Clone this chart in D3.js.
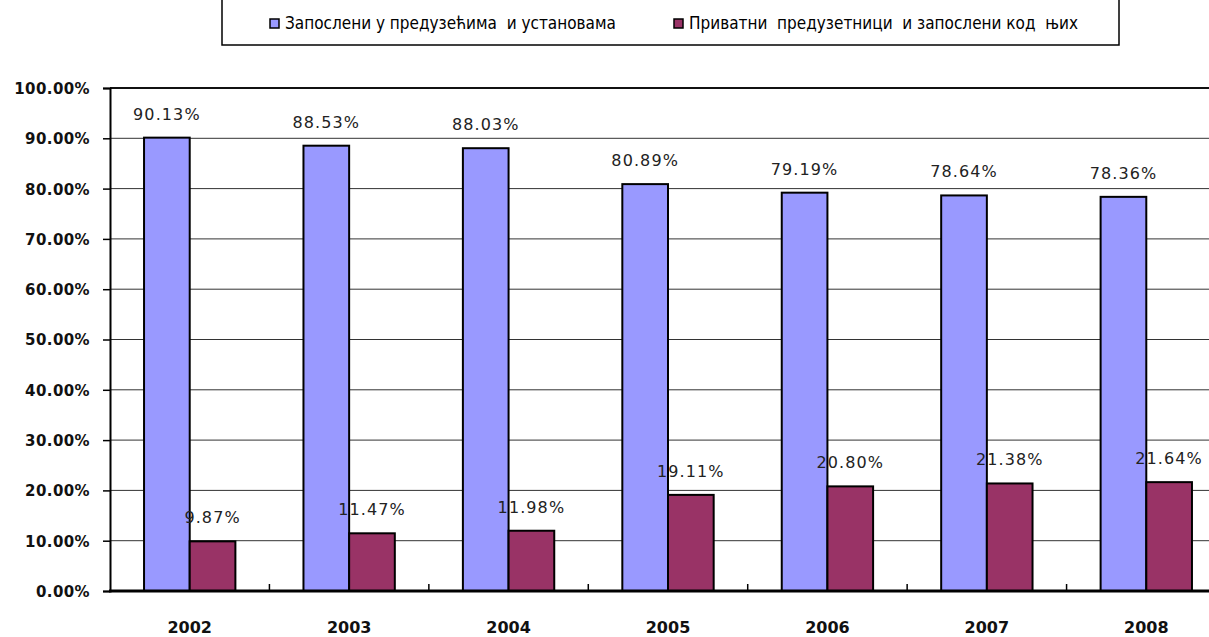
<!DOCTYPE html>
<html>
<head>
<meta charset="utf-8">
<script src="https://cdn.jsdelivr.net/npm/d3@7"></script>
<style>
    body { margin: 0; background: #fff; }
    svg { display: block; }
    .ylab { font-family: "DejaVu Sans", Verdana, sans-serif; font-weight: bold; font-size: 15px; letter-spacing: 0.4px; fill: #111; }
    .xlab { font-family: "DejaVu Sans", Verdana, sans-serif; font-weight: bold; font-size: 16px; fill: #111; }
    .val { font-family: "DejaVu Sans", Verdana, sans-serif; font-size: 16px; letter-spacing: 1.1px; fill: #222; }
    .leg { font-family: "Liberation Sans Narrow", "DejaVu Sans Condensed", sans-serif; font-size: 17px; fill: #000; }
</style>
</head>
<body>
<div id="chart"></div>
<script>
var years = ['2002', '2003', '2004', '2005', '2006', '2007', '2008'];
var seriesNames = ['Запослени у предузећима  и установама', 'Приватни  предузетници  и запослени код  њих'];
var employed = [90.13, 88.53, 88.03, 80.89, 79.19, 78.64, 78.36];
var privateOwners = [9.87, 11.47, 11.98, 19.11, 20.80, 21.38, 21.64];
var yTicks = [0, 10, 20, 30, 40, 50, 60, 70, 80, 90, 100];
var colors = ['#9999ff', '#993366'];

var width = 1209, height = 637;
var plot = {left: 110, right: 1226, top: 88, bottom: 591};

var svg = d3.select('#chart')
    .append('svg')
    .attr('width', width)
    .attr('height', height);

var rows = years.map(function(y, i) {
    return {year: y, values: [employed[i], privateOwners[i]]};
});

var x = d3.scaleBand()
    .domain(years)
    .range([plot.left, plot.right])
    .paddingInner(0.427)
    .paddingOuter(0.2135);

var xSub = d3.scaleBand()
    .domain([0, 1])
    .range([0, x.bandwidth()]);

var y = d3.scaleLinear()
    .domain([0, 100])
    .range([plot.bottom, plot.top]);

// gridlines
svg.append('g')
    .selectAll('line')
    .data(yTicks.filter(function(t) { return t > 0 && t < 100; }))
    .enter().append('line')
    .attr('x1', plot.left)
    .attr('x2', plot.right)
    .attr('y1', function(d) { return y(d); })
    .attr('y2', function(d) { return y(d); })
    .attr('stroke', '#333')
    .attr('stroke-width', 1);

// top border
svg.append('line')
    .attr('x1', plot.left).attr('x2', plot.right)
    .attr('y1', y(100)).attr('y2', y(100))
    .attr('stroke', '#111').attr('stroke-width', 2);

// y axis
var yAxis = d3.axisLeft(y)
    .tickValues(yTicks)
    .tickSize(7)
    .tickPadding(13)
    .tickFormat(function(d) { return d.toFixed(2) + '%'; });

var yg = svg.append('g')
    .attr('transform', 'translate(' + plot.left + ',0)')
    .call(yAxis);
yg.select('.domain').attr('stroke', '#000').attr('stroke-width', 2);
yg.selectAll('.tick line').attr('stroke', '#000').attr('stroke-width', 1.5);
yg.selectAll('.tick text').attr('class', 'ylab').attr('dy', '0.36em');
yg.attr('font-family', null).attr('font-size', null);

// bars
var groups = svg.append('g')
    .selectAll('g')
    .data(rows)
    .enter().append('g')
    .attr('transform', function(d) { return 'translate(' + x(d.year) + ',0)'; });

groups.selectAll('rect')
    .data(function(d) { return d.values; })
    .enter().append('rect')
    .attr('x', function(d, i) { return xSub(i); })
    .attr('y', function(d) { return y(d); })
    .attr('width', xSub.bandwidth())
    .attr('height', function(d) { return y(0) - y(d); })
    .attr('fill', function(d, i) { return colors[i]; })
    .attr('stroke', '#000')
    .attr('stroke-width', 2);

groups.selectAll('text')
    .data(function(d) { return d.values; })
    .enter().append('text')
    .attr('class', 'val')
    .attr('x', function(d, i) { return xSub(i) + xSub.bandwidth() / 2; })
    .attr('y', function(d) { return y(d) - 18; })
    .attr('text-anchor', 'middle')
    .text(function(d) { return d.toFixed(2) + '%'; });

// x axis
svg.append('line')
    .attr('x1', plot.left - 1).attr('x2', plot.right)
    .attr('y1', y(0)).attr('y2', y(0))
    .attr('stroke', '#000').attr('stroke-width', 3);

var gap = x.step() - x.bandwidth();
svg.append('g')
    .selectAll('line')
    .data(years.slice(1))
    .enter().append('line')
    .attr('x1', function(d) { return x(d) - gap / 2; })
    .attr('x2', function(d) { return x(d) - gap / 2; })
    .attr('y1', y(0))
    .attr('y2', y(0) - 7)
    .attr('stroke', '#000')
    .attr('stroke-width', 1.5);

svg.append('g')
    .selectAll('text')
    .data(years)
    .enter().append('text')
    .attr('class', 'xlab')
    .attr('x', function(d) { return x(d) + x.bandwidth() / 2; })
    .attr('y', 633)
    .attr('text-anchor', 'middle')
    .text(function(d) { return d; });

// legend
svg.append('rect')
    .attr('x', 222)
    .attr('y', -10)
    .attr('width', 897)
    .attr('height', 55)
    .attr('fill', 'none')
    .attr('stroke', '#000')
    .attr('stroke-width', 1.5);

var legendX = [270, 674];
var legend = svg.selectAll('.legend')
    .data(seriesNames)
    .enter().append('g')
    .attr('class', 'legend')
    .attr('transform', function(d, i) { return 'translate(' + legendX[i] + ',19)'; });

legend.append('rect')
    .attr('width', 9)
    .attr('height', 9)
    .attr('fill', function(d, i) { return colors[i]; })
    .attr('stroke', '#000')
    .attr('stroke-width', 1.5);

legend.append('text')
    .attr('class', 'leg')
    .attr('x', 15)
    .attr('y', 10)
    .style('white-space', 'pre')
    .text(function(d) { return d; });
</script>
</body>
</html>
